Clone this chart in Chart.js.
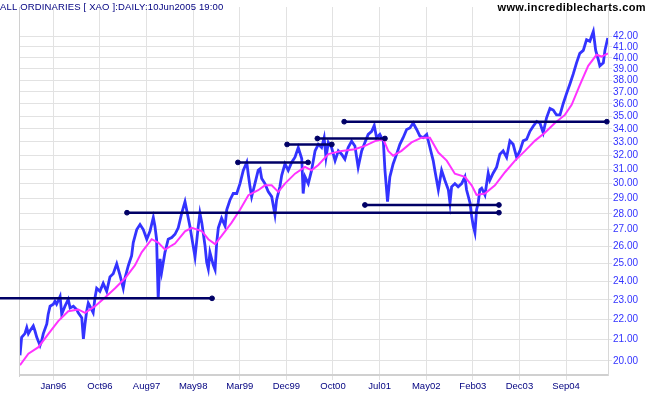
<!DOCTYPE html>
<html lang="en">
<head>
<meta charset="UTF-8">
<title>ALL ORDINARIES [ XAO ] Daily</title>
<script src="https://cdn.jsdelivr.net/npm/chart.js@4.4.1/dist/chart.umd.min.js"></script>
<style>
  body { margin: 0; background: #fff; }
  canvas { display: block; }
</style>
</head>
<body>
<canvas id="chart" width="651" height="395"></canvas>
<script>
// trading day number (0 = first bar on the chart) and closing value
const priceDay = [
  0,7,21,29,36,43,57,64,72,86,
  93,100,115,121,129,143,150,157,172,179,
  193,207,215,229,243,250,265,272,279,286,
  293,300,314,322,329,343,357,372,386,400,
  415,429,443,450,465,479,486,501,515,529,
  544,558,572,579,586,593,601,608,622,636,
  651,665,679,694,708,715,729,743,751,765,
  772,780,794,801,808,815,829,837,844,851,
  865,880,887,901,915,930,944,958,973,980,
  987,994,1001,1008,1022,1030,1037,1051,1065,1080,
  1094,1101,1115,1123,1137,1151,1166,1180,1194,1209,
  1215,1223,1237,1251,1266,1280,1294,1305,1313,1323,
  1337,1352,1366,1380,1394,1408,1423,1437,1451,1466,
  1480,1494,1509,1520,1530,1544,1559,1566,1577,1587,
  1601,1616,1630,1644,1659,1673,1687,1702,1716,1730,
  1745,1759,1773,1780,1795,1809,1823,1838,1845,1852,
  1866,1880,1895,1909,1916,1931,1938,1945,1952,1959,
  1966,1973,1981,1995,2009,2016,2030,2045,2059,2073,
  2088,2102,2116,2131,2145,2159,2174,2188,2202,2217,
  2231,2245,2259,2274,2288,2302,2317,2331,2345,2360,
  2374,2388,2402,2417,2431,2445,2460,2470,2481,2488,
  2503,2510,2522
];
const priceClose = [
  20.26,21.11,21.29,21.59,21.29,21.43,21.67,21.43,21.11,20.72,
  20.95,21.29,21.77,22.26,22.67,22.77,22.92,22.77,23.18,22.26,
  22.67,23.02,22.58,22.67,22.50,22.33,22.08,21.04,21.77,22.41,
  22.83,22.67,22.33,23.13,23.62,23.45,23.88,23.45,24.24,24.42,
  24.97,24.34,23.62,24.15,24.88,25.45,26.22,27.01,27.32,27.01,
  26.42,26.92,27.77,27.22,26.42,23.05,25.26,24.52,25.64,26.42,
  26.52,26.72,27.12,28.04,28.79,28.26,27.22,26.02,25.36,27.22,
  28.04,27.44,26.02,25.07,24.69,25.64,24.92,24.64,26.22,27.12,
  27.72,27.22,28.26,28.90,29.33,29.33,30.00,30.92,31.50,30.58,
  29.78,29.12,29.55,30.00,30.92,31.03,30.36,30.00,29.46,29.12,
  27.94,28.90,29.78,30.57,31.39,30.92,31.50,31.87,32.58,31.75,
  29.33,30.47,30.00,30.92,32.33,32.82,32.58,33.32,31.85,32.96,
  32.58,31.62,32.33,32.09,31.73,32.58,33.06,32.70,31.15,32.33,
  32.96,33.57,33.81,34.27,33.32,33.57,33.06,30.93,28.79,30.46,
  31.38,32.09,32.82,33.32,33.95,34.07,34.46,33.95,33.44,33.32,
  33.57,32.58,31.62,30.93,29.58,30.93,30.23,29.58,28.70,29.78,
  30.00,29.78,30.00,30.47,29.58,28.70,27.84,27.22,26.82,28.26,
  28.70,29.58,29.69,29.23,30.72,30.23,30.72,31.15,32.09,32.33,
  31.85,33.08,32.82,31.85,32.33,33.08,33.20,33.81,34.20,34.58,
  34.46,33.70,34.85,35.63,35.50,35.10,35.10,36.03,36.85,37.69,
  38.55,39.54,40.40,40.68,41.69,41.53,42.47,40.70,39.86,39.27,
  39.55,40.70,41.85
];

// moving average
const maDay = [
  0,36,79,121,164,207,250,279,322,365,
  408,450,493,522,565,593,622,665,708,737,
  780,808,837,865,908,944,980,1022,1051,1080,
  1108,1137,1180,1223,1251,1280,1323,1380,1437,1480,
  1523,1559,1580,1601,1637,1680,1723,1759,1795,1831,
  1866,1909,1938,1959,1995,2038,2081,2124,2167,2209,
  2252,2295,2338,2367,2402,2438,2474,2495,2523
];
const maValue = [
  19.81,20.34,20.64,21.27,21.91,22.41,22.50,22.33,22.67,23.13,
  23.62,24.15,24.88,25.64,26.42,26.22,25.80,26.16,26.90,27.12,
  26.92,26.42,26.13,26.62,27.44,28.26,29.22,29.55,29.88,29.88,
  29.44,30.00,30.69,31.17,30.92,31.30,32.09,32.33,32.45,32.70,
  33.06,33.20,32.33,31.98,32.33,32.96,33.32,33.32,32.21,31.62,
  30.69,30.47,29.88,29.23,29.33,29.88,30.79,31.62,32.33,33.08,
  33.70,34.46,35.10,35.92,37.58,39.27,40.27,40.11,40.40
];

// support / resistance trend lines
const levelValue = [23.08, 28.07, 28.57, 31.49, 32.81, 33.26, 34.56];
const levelFrom  = [-86, 459, 1480, 935, 1146, 1276, 1391];
const levelTo    = [824, 2055, 2055, 1236, 1338, 1566, 2518];

// axes
const tickDays   = [143,343,543,743,943,1143,1343,1543,1743,1943,2143,2343];
const tickLabels = ['Jan96','Oct96','Aug97','May98','Mar99','Dec99','Oct00','Jul01','May02','Feb03','Dec03','Sep04'];
const yTicks = [20,21,22,23,24,25,26,27,28,29,30,31,32,33,34,35,36,37,38,39,40,41,42];
const dayMax = 2523;
const yMin = 19.37, yMax = 44.92;

Chart.defaults.font.family = "'Liberation Sans', Arial, sans-serif";

const datasets = [];

levelValue.forEach((v, i) => {
  datasets.push({
    data: [{x: levelFrom[i], y: v}, {x: levelTo[i], y: v}],
    borderColor: '#000066',
    backgroundColor: '#000066',
    borderWidth: 2.5,
    pointRadius: levelFrom[i] < 0 ? [0, 2.4] : 2.4,
    pointBorderWidth: 1,
    clip: false,
    order: 0
  });
});

datasets.push({
  data: maDay.map((d, i) => ({x: d, y: maValue[i]})),
  borderColor: '#ff33ff',
  borderWidth: 2,
  pointRadius: 0,
  order: 1
});

datasets.push({
  data: priceDay.map((d, i) => ({x: d, y: priceClose[i]})),
  borderColor: '#3333ff',
  borderWidth: 2.8,
  pointRadius: 0,
  order: 2
});

const frame = {
  id: 'frame',
  beforeDatasetsDraw(chart) {
    const {ctx, chartArea} = chart;
    ctx.save();
    ctx.strokeStyle = '#d0d0d0';
    ctx.lineWidth = 1;
    ctx.beginPath();
    ctx.moveTo(chartArea.left - 0.5, chartArea.top);
    ctx.lineTo(chartArea.left - 0.5, chartArea.bottom + 2);
    ctx.stroke();
    ctx.restore();
  },
  afterDraw(chart) {
    const ctx = chart.ctx;
    ctx.save();
    ctx.textBaseline = 'alphabetic';
    ctx.fillStyle = '#000080';
    ctx.font = "9.5px 'Liberation Sans', Arial, sans-serif";
    ctx.letterSpacing = '0.15px';
    ctx.textAlign = 'left';
    ctx.fillText('ALL ORDINARIES [ XAO ]:DAILY:10Jun2005 19:00', 0, 9.5);
    ctx.fillStyle = '#000000';
    ctx.font = "bold 11px 'Liberation Sans', Arial, sans-serif";
    ctx.letterSpacing = '0.4px';
    ctx.textAlign = 'right';
    ctx.fillText('www.incrediblecharts.com', 646, 11);
    ctx.restore();
  }
};

new Chart(document.getElementById('chart'), {
  type: 'line',
  data: { datasets },
  options: {
    responsive: false,
    animation: false,
    devicePixelRatio: 1,
    layout: { padding: { left: 20, top: 0, right: 0, bottom: 0 } },
    elements: { line: { tension: 0 } },
    plugins: { legend: { display: false }, tooltip: { enabled: false } },
    scales: {
      x: {
        type: 'linear',
        min: 0,
        max: dayMax,
        afterBuildTicks: s => { s.ticks = tickDays.map(v => ({value: v})); },
        afterFit: s => { s.height = 20; },
        ticks: {
          autoSkip: false,
          maxRotation: 0,
          padding: 1,
          color: '#000080',
          font: { size: 9.5 },
          callback: v => tickLabels[tickDays.indexOf(v)]
        },
        grid: { color: '#e2e2e2', tickLength: 5 },
        border: { color: '#d0d0d0', width: 2 }
      },
      y: {
        type: 'logarithmic',
        position: 'right',
        min: yMin,
        max: yMax,
        afterBuildTicks: s => { s.ticks = yTicks.map(v => ({value: v})); },
        afterFit: s => { s.width = 43; },
        ticks: {
          autoSkip: false,
          padding: 1,
          color: '#3333ff',
          font: { size: 10 },
          callback: v => Number(v).toFixed(2)
        },
        grid: { color: '#e2e2e2', tickLength: 4 },
        border: { color: '#d8d8d8', width: 1 }
      }
    }
  },
  plugins: [frame]
});
</script>
</body>
</html>
